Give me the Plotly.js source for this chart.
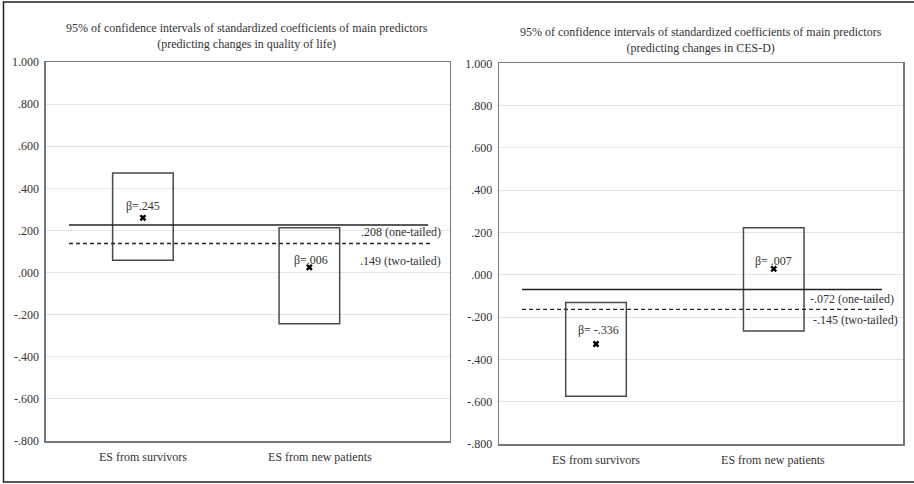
<!DOCTYPE html>
<html>
<head>
<meta charset="utf-8">
<script src="https://cdn.plot.ly/plotly-3.0.1.min.js"></script>
<style>html,body{margin:0;padding:0;background:#fff;}#chart{width:914px;height:484px;}</style>
</head>
<body>
<div id="chart"></div>
<script>
// ---- data ----
var categories = ["ES from survivors", "ES from new patients"];
var yTickVals = [1.0, 0.8, 0.6, 0.4, 0.2, 0.0, -0.2, -0.4, -0.6, -0.8];
var yTickText = ["1.000", ".800", ".600", ".400", ".200", ".000", "-.200", "-.400", "-.600", "-.800"];

// left panel: quality of life
var qolTitle = "95% of confidence intervals of standardized coefficients of main predictors<br>(predicting changes in quality of life)";
var qolLower = [0.059, -0.243];
var qolUpper = [0.473, 0.213];
var qolBeta = [0.260, 0.025];
var qolBetaLabels = ["β=.245", "β=.006"];
var qolOneTailed = 0.226;
var qolTwoTailed = 0.138;
var qolCritLabels = [".208 (one-tailed)", ".149 (two-tailed)"];

// right panel: CES-D
var cesTitle = "95% of confidence intervals of standardized coefficients of main predictors<br>(predicting changes in CES-D)";
var cesLower = [-0.574, -0.266];
var cesUpper = [-0.131, 0.223];
var cesBeta = [-0.327, 0.028];
var cesBetaLabels = ["β= -.336", "β= .007"];
var cesOneTailed = -0.070;
var cesTwoTailed = -0.163;
var cesCritLabels = ["-.072 (one-tailed)", "-.145 (two-tailed)"];

// ---- layout helpers (positions, not data) ----
var catTickPos = [2.4, 6.78];
var qolBoxPos = [2.4, 6.52];
var cesBoxPos = [2.4, 6.8];
var FONT = "'Liberation Serif', 'DejaVu Serif', serif";
var FS = 12;
var BOXCOL = "#4a4a4a";

function panelTraces(xa, ya, pos, lower, upper, beta, one, two, lineEndSolid, lineEndDash) {
  var span = upper.map(function(u, i){ return u - lower[i]; });
  return [
    {type: "bar", x: pos, y: span, base: lower, width: 1.5, xaxis: xa, yaxis: ya,
     marker: {color: "rgba(0,0,0,0)", line: {color: BOXCOL, width: 1.5}}, hoverinfo: "skip"},
    {type: "scatter", mode: "lines", x: [0.57, lineEndSolid], y: [one, one], xaxis: xa, yaxis: ya,
     line: {color: "#222", width: 1.5}},
    {type: "scatter", mode: "lines", x: [0.57, lineEndDash], y: [two, two], xaxis: xa, yaxis: ya,
     line: {color: "#222", width: 1.3, dash: "4px,3px"}},
    {type: "scatter", mode: "markers", x: pos, y: beta, xaxis: xa, yaxis: ya,
     marker: {symbol: "x", size: 6, color: "#000", line: {width: 0}}}
  ];
}

var data = [].concat(
  panelTraces("x", "y", qolBoxPos, qolLower, qolUpper, qolBeta, qolOneTailed, qolTwoTailed, 9.46, 9.55),
  panelTraces("x2", "y2", cesBoxPos, cesLower, cesUpper, cesBeta, cesOneTailed, cesTwoTailed, 9.48, 9.58)
);

function xaxisDef(domain, anchor) {
  return {domain: domain, anchor: anchor, range: [0, 10], tickmode: "array", tickvals: catTickPos,
    ticktext: categories, showgrid: false, zeroline: false, showline: true, mirror: true,
    linecolor: "#777", linewidth: 1.5, ticks: "", ticklabelstandoff: 4,
    tickfont: {family: FONT, size: FS, color: "#333"}, fixedrange: true};
}
function yaxisDef(domain, anchor) {
  return {domain: domain, anchor: anchor, range: [-0.8, 1.0], tickmode: "array", tickvals: yTickVals,
    ticktext: yTickText, showgrid: true, gridcolor: "#e4e4e4", gridwidth: 1, zeroline: false,
    showline: true, mirror: true, linecolor: "#777", linewidth: 1.5, ticks: "",
    ticklabelstandoff: 3, tickfont: {family: FONT, size: FS, color: "#333"}, fixedrange: true};
}

function ann(xref, yref, x, y, text, xanchor) {
  return {xref: xref, yref: yref, x: x, y: y, text: text, showarrow: false,
    xanchor: xanchor || "center", yanchor: "middle", font: {family: FONT, size: FS, color: "#333"}};
}

var annotations = [
  {xref: "paper", yref: "paper", x: 0.270, y: 0.925, text: qolTitle, showarrow: false,
   xanchor: "center", yanchor: "middle", font: {family: FONT, size: FS, color: "#333"}},
  {xref: "paper", yref: "paper", x: 0.767, y: 0.917, text: cesTitle, showarrow: false,
   xanchor: "center", yanchor: "middle", font: {family: FONT, size: FS, color: "#333"}},
  ann("x", "y", qolBoxPos[0], qolBeta[0] + 0.056, qolBetaLabels[0]),
  ann("x", "y", qolBoxPos[1] + 0.04, qolBeta[1] + 0.037, qolBetaLabels[1]),
  ann("x", "y", 9.83, qolOneTailed - 0.034, qolCritLabels[0], "right"),
  ann("x", "y", 9.83, qolTwoTailed - 0.083, qolCritLabels[1], "right"),
  ann("x2", "y2", cesBoxPos[0] + 0.05, cesBeta[0] + 0.065, cesBetaLabels[0]),
  ann("x2", "y2", cesBoxPos[1], cesBeta[1] + 0.037, cesBetaLabels[1]),
  ann("x2", "y2", 9.83, cesOneTailed - 0.046, cesCritLabels[0], "right"),
  ann("x2", "y2", 9.93, cesTwoTailed - 0.051, cesCritLabels[1], "right")
];

var layout = {
  width: 914, height: 484,
  margin: {l: 0, r: 0, t: 0, b: 0},
  paper_bgcolor: "#fff", plot_bgcolor: "#fff",
  showlegend: false, bargap: 0,
  xaxis: xaxisDef([0.0503, 0.4923], "y"),
  yaxis: yaxisDef([0.0888, 0.8719], "x"),
  xaxis2: xaxisDef([0.546, 0.988], "y2"),
  yaxis2: yaxisDef([0.0826, 0.8692], "x2"),
  annotations: annotations,
  shapes: [
    {type: "rect", xref: "paper", yref: "paper", x0: 3.5/914, x1: 1.02, y0: 1 - 482/484, y1: 1 - 2/484,
     line: {color: "#222", width: 1.5}, fillcolor: "rgba(0,0,0,0)"}
  ]
};

Plotly.newPlot("chart", data, layout, {displayModeBar: false, staticPlot: true});
</script>
</body>
</html>
